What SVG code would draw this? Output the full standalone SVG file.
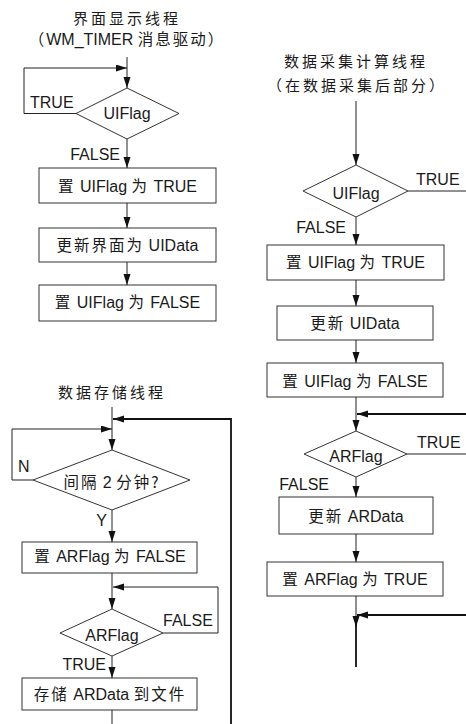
<svg xmlns="http://www.w3.org/2000/svg" width="466" height="724" viewBox="0 0 466 724">
<style>
.bg{fill:#fff}
.box{fill:#fff;stroke:#333;stroke-width:1}
.dia{fill:#fff;stroke:#333;stroke-width:1}
.ln{fill:none;stroke:#222;stroke-width:1}
.lnb{fill:none;stroke:#111;stroke-width:1.8}
.t{font-family:"Liberation Sans","Noto Sans CJK SC",sans-serif;font-size:16px;fill:#1a1a1a}
.c{font-family:"Noto Sans CJK SC",sans-serif;font-size:15.5px;letter-spacing:2px}
.ti{font-family:"Noto Sans CJK SC",sans-serif;font-size:15px;letter-spacing:3px;fill:#1a1a1a}
.m{text-anchor:middle}
.e{text-anchor:end}
</style>
<defs>
<marker id="ah" markerUnits="userSpaceOnUse" markerWidth="12" markerHeight="8" refX="11" refY="3.5" orient="auto">
<path d="M0,0 L11,3.5 L0,7 Z" fill="#111"/>
</marker>
</defs>
<rect class="bg" x="0" y="0" width="466" height="724"/>

<!-- Chart A: UI thread -->
<g id="titleA">
<text class="ti m" x="127" y="24">界面显示线程</text>
<text class="t m" x="127" y="45"><tspan class="c">（</tspan>WM_TIMER <tspan class="c">消息驱动）</tspan></text>
</g>
<g id="decA">
<polygon class="dia" points="127,88 179,113.5 127,139 76,113.5"/>
<text class="t m" x="127" y="119">UIFlag</text>
</g>
<g id="boxA1">
<rect class="box" x="39" y="168" width="177" height="35"/>
<text class="t m" x="127.5" y="192"><tspan class="c">置</tspan> UIFlag <tspan class="c">为</tspan> TRUE</text>
</g>
<g id="boxA2">
<rect class="box" x="39" y="228" width="177" height="34"/>
<text class="t m" x="127.5" y="251"><tspan class="c">更新界面为</tspan> UIData</text>
</g>
<g id="boxA3">
<rect class="box" x="39" y="285" width="177" height="36"/>
<text class="t m" x="127.5" y="308"><tspan class="c">置</tspan> UIFlag <tspan class="c">为</tspan> FALSE</text>
</g>

<!-- Chart B: acquisition thread -->
<g id="titleB">
<text class="ti m" x="356" y="67">数据采集计算线程</text>
<text class="ti m" x="357" y="91">（在数据采集后部分）</text>
</g>
<g id="decB1">
<polygon class="dia" points="356,165 408,191 356,217 303,191"/>
<text class="t m" x="356" y="199">UIFlag</text>
</g>
<g id="boxB1">
<rect class="box" x="267" y="245" width="177" height="35"/>
<text class="t m" x="355.5" y="268"><tspan class="c">置</tspan> UIFlag <tspan class="c">为</tspan> TRUE</text>
</g>
<g id="boxB2">
<rect class="box" x="277" y="306" width="156" height="34"/>
<text class="t m" x="355" y="329"><tspan class="c">更新</tspan> UIData</text>
</g>
<g id="boxB3">
<rect class="box" x="267" y="363" width="176" height="34"/>
<text class="t m" x="355" y="387"><tspan class="c">置</tspan> UIFlag <tspan class="c">为</tspan> FALSE</text>
</g>
<g id="decB2">
<polygon class="dia" points="356,431 407,454 356,477 304,454"/>
<text class="t m" x="356" y="462">ARFlag</text>
</g>
<g id="boxB4">
<rect class="box" x="279" y="497" width="154" height="37"/>
<text class="t m" x="356" y="522"><tspan class="c">更新</tspan> ARData</text>
</g>
<g id="boxB5">
<rect class="box" x="267" y="562" width="176" height="34"/>
<text class="t m" x="355" y="585"><tspan class="c">置</tspan> ARFlag <tspan class="c">为</tspan> TRUE</text>
</g>

<!-- Chart C: storage thread -->
<g id="titleC">
<text class="ti m" x="112" y="398">数据存储线程</text>
</g>
<g id="decC1">
<polygon class="dia" points="112,450 190,480 112,510 33,480"/>
<text class="t m" x="112" y="488"><tspan class="c">间隔</tspan> 2 <tspan class="c">分钟?</tspan></text>
</g>
<g id="boxC1">
<rect class="box" x="22" y="542" width="175" height="31"/>
<text class="t m" x="110" y="562"><tspan class="c">置</tspan> ARFlag <tspan class="c">为</tspan> FALSE</text>
</g>
<g id="decC2">
<polygon class="dia" points="112,609 163,633 112,656 60,633"/>
<text class="t m" x="112" y="641">ARFlag</text>
</g>
<g id="boxC2">
<rect class="box" x="22" y="678" width="175" height="32"/>
<text class="t m" x="110" y="700"><tspan class="c">存储</tspan> ARData <tspan class="c">到文件</tspan></text>
</g>

<g id="connectors">
<!-- A -->
<line class="ln" x1="127" y1="57" x2="127" y2="88" marker-end="url(#ah)"/>
<polyline class="ln" points="76,113.5 24,113.5 24,68 127,68" marker-end="url(#ah)"/>
<line class="ln" x1="127" y1="139" x2="127" y2="168" marker-end="url(#ah)"/>
<line class="ln" x1="127" y1="203" x2="127" y2="228" marker-end="url(#ah)"/>
<line class="ln" x1="127" y1="262" x2="127" y2="285" marker-end="url(#ah)"/>
<text class="t" x="30" y="108">TRUE</text>
<text class="t e" x="120" y="160">FALSE</text>
<!-- B -->
<line class="ln" x1="356" y1="101" x2="356" y2="165" marker-end="url(#ah)"/>
<line class="ln" x1="408" y1="191" x2="466" y2="191"/>
<text class="t" x="416" y="185">TRUE</text>
<line class="ln" x1="356" y1="217" x2="356" y2="245" marker-end="url(#ah)"/>
<text class="t e" x="346" y="233">FALSE</text>
<line class="ln" x1="356" y1="280" x2="356" y2="306" marker-end="url(#ah)"/>
<line class="ln" x1="356" y1="340" x2="356" y2="363" marker-end="url(#ah)"/>
<line class="ln" x1="356" y1="397" x2="356" y2="431" marker-end="url(#ah)"/>
<line class="lnb" x1="466" y1="414" x2="357" y2="414" marker-end="url(#ah)"/>
<line class="ln" x1="407" y1="454" x2="466" y2="454"/>
<text class="t" x="417" y="448">TRUE</text>
<line class="ln" x1="356" y1="477" x2="356" y2="497" marker-end="url(#ah)"/>
<text class="t e" x="329" y="490">FALSE</text>
<line class="ln" x1="356" y1="534" x2="356" y2="562" marker-end="url(#ah)"/>
<line class="ln" x1="356" y1="596" x2="356" y2="627" marker-end="url(#ah)"/>
<line class="lnb" x1="466" y1="615" x2="357" y2="615" marker-end="url(#ah)"/>
<line class="lnb" x1="356" y1="622" x2="356" y2="667"/>
<!-- C -->
<line class="ln" x1="112" y1="407" x2="112" y2="450" marker-end="url(#ah)"/>
<polyline class="lnb" points="231,724 231,419 113,419" marker-end="url(#ah)"/>
<polyline class="ln" points="33,480 12,480 12,429 112,429" marker-end="url(#ah)"/>
<text class="t" x="18" y="472">N</text>
<line class="ln" x1="112" y1="510" x2="112" y2="542" marker-end="url(#ah)"/>
<text class="t e" x="107" y="526">Y</text>
<line class="ln" x1="112" y1="573" x2="112" y2="609" marker-end="url(#ah)"/>
<polyline class="ln" points="163,633 218,633 218,587 113,587" marker-end="url(#ah)"/>
<text class="t" x="163" y="626">FALSE</text>
<line class="ln" x1="112" y1="656" x2="112" y2="678" marker-end="url(#ah)"/>
<text class="t e" x="106" y="670">TRUE</text>
<line class="ln" x1="112" y1="710" x2="112" y2="724"/>
</g>
</svg>
